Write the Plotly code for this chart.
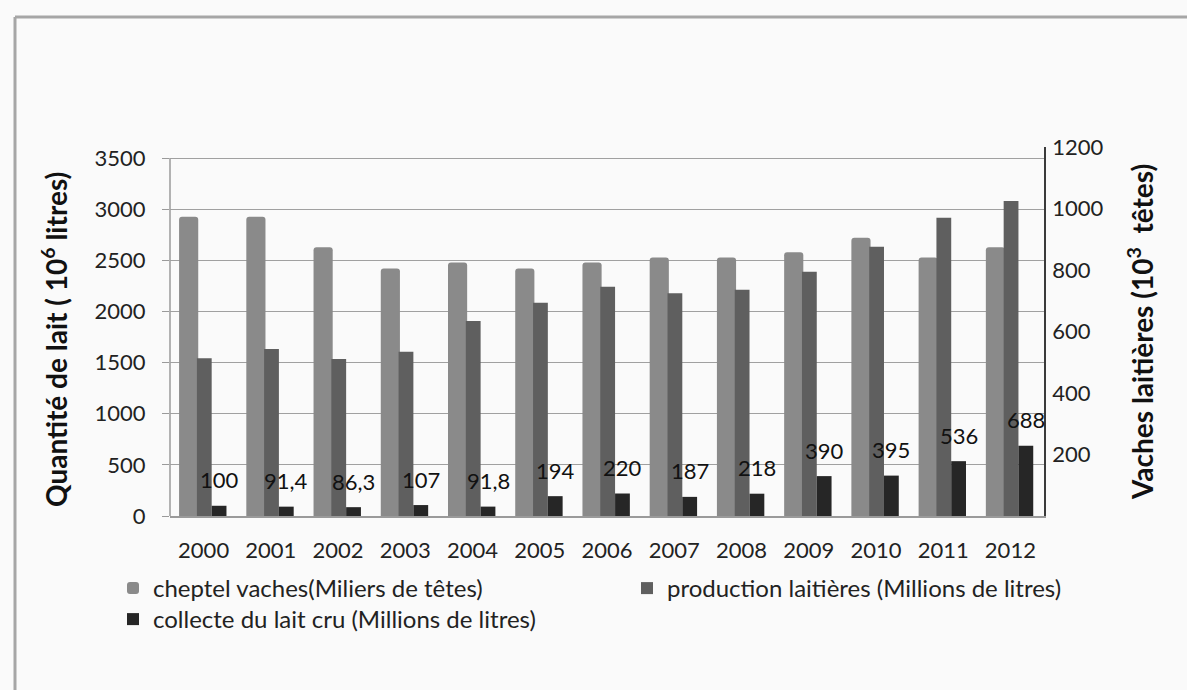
import plotly.graph_objects as go

# Algerian dairy sector, 2000-2012
years = ["2000", "2001", "2002", "2003", "2004", "2005", "2006",
         "2007", "2008", "2009", "2010", "2011", "2012"]
cheptel = [973, 973, 874, 805, 824, 805, 824, 841, 841, 858, 905, 841, 874]
production = [1542, 1633, 1535, 1606, 1906, 2085, 2242, 2177, 2212, 2389, 2633, 2916, 3079]
collecte = [100, 91.4, 86.3, 107, 91.8, 194, 220, 187, 218, 390, 395, 536, 688]

left_ticks = [0, 500, 1000, 1500, 2000, 2500, 3000, 3500]
right_ticks = [200, 400, 600, 800, 1000, 1200]

left_title = "Quantité de lait ( 10<sup>6</sup> litres)"
right_title = "Vaches laitières (10<sup>3</sup>  têtes)"

FONT = "Lato"
W, H = 1187, 690
ML, MR, MT, MB = 170, 143, 147, 174
plot_h = H - MT - MB
# left scale tops out at 3500 a little below the right scale's 1200
left_top_px = 158
left_max = 3500 * plot_h / (H - MB - left_top_px)


def fr_label(v):
    return f"{v:g}".replace(".", ",")


fig = go.Figure()

fig.add_trace(go.Bar(
    x=years, y=cheptel, name="cheptel vaches(Miliers de têtes)",
    yaxis="y", offset=-0.365, width=0.285, legend="legend",
    marker=dict(color="#8a8a8a", line=dict(width=0), cornerradius=3),
))
fig.add_trace(go.Bar(
    x=years, y=production, name="production laitières (Millions de litres)",
    yaxis="y2", offset=-0.10, width=0.22, legend="legend2",
    marker=dict(color="#5f5f5f", line=dict(width=0)),
))
fig.add_trace(go.Bar(
    x=years, y=collecte, name="collecte du lait cru (Millions de litres)",
    yaxis="y2", offset=0.12, width=0.22, legend="legend3",
    marker=dict(color="#262626", line=dict(width=0)),
))

px_x = lambda p: (p - ML) / (W - ML - MR)
px_y = lambda p: (H - MB - p) / plot_h

# value labels above the raw-milk collection bars (x given as category index)
annotations = []
for i, v in enumerate(collecte):
    annotations.append(dict(
        x=i, y=v, xref="x", yref="y2", text=fr_label(v),
        showarrow=False, xshift=15.5, yshift=26, yanchor="middle",
        font=dict(family=FONT, size=22, color="#111111"),
    ))

# axis titles
title_font = dict(family=FONT, size=28, color="#111111", weight="bold")
annotations.append(dict(
    text=left_title, xref="paper", yref="paper", x=px_x(54), y=px_y(340),
    textangle=-90, showarrow=False, xanchor="center", yanchor="middle",
    font=title_font,
))
annotations.append(dict(
    text=right_title, xref="paper", yref="paper", x=px_x(1140), y=px_y(332),
    textangle=-90, showarrow=False, xanchor="center", yanchor="middle",
    font=title_font,
))

shapes = [
    # outer frame (left and top edges)
    dict(type="line", xref="paper", yref="paper", x0=px_x(15), x1=px_x(15),
         y0=px_y(17), y1=px_y(H + 5), line=dict(color="#a6a6a6", width=3)),
    dict(type="line", xref="paper", yref="paper", x0=px_x(15), x1=px_x(W + 5),
         y0=px_y(17), y1=px_y(17), line=dict(color="#a6a6a6", width=3)),
    # left value axis line, from 0 to 3500
    dict(type="line", xref="paper", yref="y2", x0=0, x1=0, y0=0, y1=3500,
         line=dict(color="#9a9a9a", width=1.5), layer="below"),
]

legend_common = dict(
    orientation="v", xref="container", yref="container",
    xanchor="left", yanchor="top",
    font=dict(family=FONT, size=24, color="#222222"),
    bgcolor="rgba(0,0,0,0)", traceorder="normal",
)

fig.update_layout(
    width=W, height=H,
    margin=dict(l=ML, r=MR, t=MT, b=MB, autoexpand=False),
    paper_bgcolor="#fafafa", plot_bgcolor="#fafafa",
    barmode="overlay",
    font=dict(family=FONT, size=22, color="#222222"),
    showlegend=True,
    legend=dict(x=113 / W, y=1 - 566 / H, **legend_common),
    legend2=dict(x=627 / W, y=1 - 566 / H, **legend_common),
    legend3=dict(x=113 / W, y=1 - 597 / H, **legend_common),
    xaxis=dict(
        type="category", categoryorder="array", categoryarray=years,
        range=[-0.5, len(years) - 0.5], tickangle=0,
        showline=True, linecolor="#9a9a9a", linewidth=1.5,
        showgrid=False, ticks="", ticklabelstandoff=14,
        tickfont=dict(family=FONT, size=22, color="#222222"),
    ),
    yaxis=dict(
        side="right", range=[0, 1200], tickvals=right_ticks,
        showgrid=False, zeroline=False,
        showline=True, linecolor="#3a3a3a", linewidth=1.5,
        ticks="", ticklabelstandoff=2,
        tickfont=dict(family=FONT, size=22, color="#222222"),
    ),
    yaxis2=dict(
        side="left", overlaying="y", range=[0, left_max], tickvals=left_ticks,
        showgrid=True, gridcolor="#a0a0a0", gridwidth=1.3,
        zeroline=False, showline=False,
        ticks="outside", ticklen=7, tickcolor="#9a9a9a", tickwidth=1.3,
        ticklabelstandoff=12,
        tickfont=dict(family=FONT, size=22, color="#222222"),
    ),
    annotations=annotations,
    shapes=shapes,
)

fig.write_html("out.html")
